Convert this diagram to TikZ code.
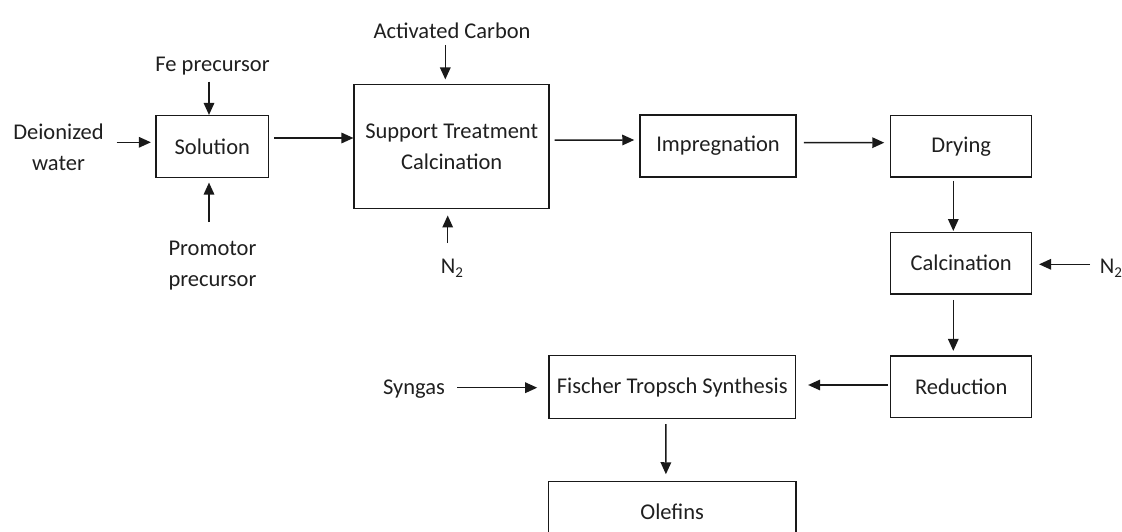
\documentclass[tikz,border=0pt]{standalone}
\usepackage{fontspec}
\setmainfont{Carlito}
\usetikzlibrary{arrows.meta}
\newcommand{\lowtwo}{\raisebox{-0.35ex}{\fontsize{15}{15}\selectfont 2}}
\begin{document}
\begin{tikzpicture}[x=1pt,y=-1pt,
  every node/.style={font=\fontsize{22.5}{31}\selectfont, text=black!88},
  box/.style={draw=black!90, line width=1.5pt, inner sep=0pt, align=center},
  lbl/.style={align=center, inner sep=0pt},
  arr/.style={-{Triangle[length=12pt,width=10.5pt]}, line width=1.5pt, draw=black!90}]
\useasboundingbox (0,0) rectangle (1122,532);
\clip (0,0) rectangle (1122,532);
% process boxes
\node[box, minimum width=112.7pt, minimum height=61.6pt] (sol) at (212.3,146.5) {Solution};
\node[box, minimum width=195pt, minimum height=124pt] (sup) at (451.7,146.7) {Support Treatment\\Calcination};
\node[box, minimum width=156pt, minimum height=62pt] (imp) at (718,146) {Impregnation};
\node[box, minimum width=141pt, minimum height=61.5pt] (dry) at (961.2,146.5) {Drying};
\node[box, minimum width=141pt, minimum height=61.7pt] (cal) at (961.2,263.2) {Calcination};
\node[box, minimum width=141pt, minimum height=61.7pt] (red) at (961.2,386.8) {Reduction};
\node[box, minimum width=246.7pt, minimum height=62.6pt] (fts) at (672.3,387) {Fischer Tropsch Synthesis};
\node[box, minimum width=247.7pt, minimum height=60pt] (ole) at (672.2,511.5) {Olefins};
% input labels
\node[lbl] (dw) at (58.5,147) {Deionized\\water};
\node[lbl] (fe) at (212.5,66) {Fe precursor};
\node[lbl] (pp) at (212.5,266) {Promotor\\precursor};
\node[lbl] (ac) at (452,31) {Activated Carbon};
\node[lbl] (n2a) at (452,268) {N\lowtwo};
\node[lbl] (n2b) at (1111,268) {N\lowtwo};
\node[lbl] (syn) at (414,389) {Syngas};
% free arrow ends
\coordinate (dw0) at (116.7,142.3);
\coordinate (fe0) at (209,81.7);
\coordinate (pp0) at (209,222);
\coordinate (ac0) at (445.3,45);
\coordinate (na0) at (447.7,243);
\coordinate (nb0) at (1090,264.3);
\coordinate (sy0) at (457.3,387.7);
% input arrows
\draw[arr, shorten >=4.3pt] (dw0) -- (sol.west |- dw0);
\draw[arr] (fe0) -- (sol.north -| fe0);
\draw[arr, shorten >=4.5pt] (pp0) -- (sol.south -| pp0);
\draw[arr, shorten >=4.5pt] (ac0) -- (sup.north -| ac0);
\draw[arr, shorten >=6pt] (na0) -- (sup.south -| na0);
\draw[arr, shorten >=6.6pt] (nb0) -- (cal.east |- nb0);
\draw[arr, shorten >=11pt] (sy0) -- (fts.west |- sy0);
% process flow
\draw[arr, shorten <=5pt] ([yshift=8.5pt]sol.east) -- ([yshift=8.7pt]sup.west);
\draw[arr, shorten <=4.7pt, shorten >=5pt] ([yshift=6.5pt]sup.east) -- ([yshift=6pt]imp.west);
\draw[arr, shorten <=7pt, shorten >=5.7pt] ([yshift=3.5pt]imp.east) -- ([yshift=3.8pt]dry.west);
\draw[arr, shorten <=2.8pt, shorten >=0.6pt] ([xshift=-7.9pt]dry.south) -- ([xshift=-7.9pt]cal.north);
\draw[arr, shorten <=5pt, shorten >=4.3pt] ([xshift=-7.9pt]cal.south) -- ([xshift=-7.9pt]red.north);
\draw[arr, shorten <=2.4pt, shorten >=11.7pt] ([yshift=1.8pt]red.west) -- ([yshift=2pt]fts.east);
\draw[arr, shorten <=5pt, shorten >=6.5pt] ([xshift=-6.3pt]fts.south) -- ([xshift=-6.3pt]ole.north);
\end{tikzpicture}
\end{document}
